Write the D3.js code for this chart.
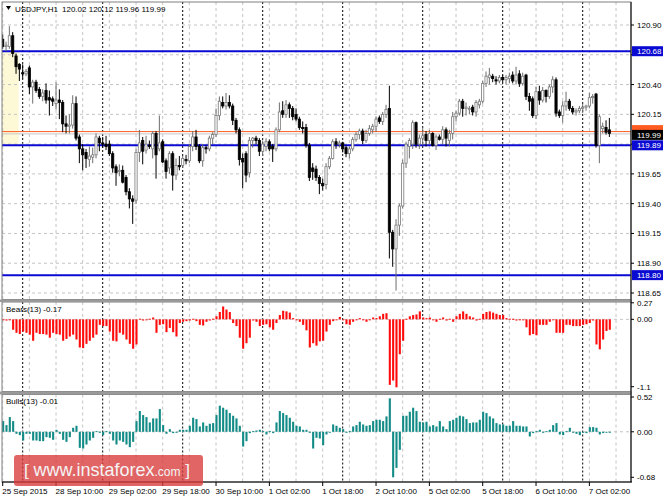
<!DOCTYPE html>
<html lang="en">
<head>
<meta charset="UTF-8">
<title>USDJPY H1</title>
<script src="https://cdn.jsdelivr.net/npm/d3@7"></script>
<style>
    body{ margin:0; background:#fff; }
    svg{ display:block; font-family:"Liberation Sans", Arial, sans-serif; }
    .grid{ stroke:#c4c4c4; stroke-dasharray:3,3; stroke-width:1; fill:none; }
    .sep{ stroke:#000; stroke-dasharray:2,2; stroke-width:1; fill:none; }
    .frame{ fill:none; stroke:#808080; stroke-width:1; }
    .lbl{ font-size:8px; fill:#000; }
</style>
</head>
<body>
<script>
// hourly bars, 25 Sep 18:00 .. 7 Oct 08:00
const open = [120.78,120.72,120.72,120.81,120.64,120.57,120.50,120.49,120.54,120.38,
120.42,120.36,120.30,120.35,120.29,120.28,120.24,120.27,120.25,120.07,
120.05,120.06,120.24,119.96,119.86,119.83,119.77,119.79,119.81,119.95,
119.91,119.90,119.90,119.82,119.71,119.67,119.68,119.62,119.50,119.44,
119.43,119.83,119.93,119.85,119.89,119.86,119.99,119.86,119.92,119.76,
119.70,119.82,119.64,119.72,119.72,119.77,119.76,119.88,119.96,119.88,
119.76,119.87,119.86,119.95,119.98,120.14,120.25,120.22,120.25,120.22,
120.10,120.02,119.78,119.82,119.66,119.93,119.95,119.93,119.84,119.88,
119.92,119.88,119.86,120.02,120.18,120.15,120.23,120.20,120.15,120.11,
120.04,120.04,119.89,119.70,119.69,119.62,119.57,119.56,119.71,119.78,
119.92,119.90,119.91,119.87,119.82,119.86,119.94,119.98,120.01,119.93,
119.99,120.02,120.05,120.12,120.09,120.15,120.20,119.16,119.02,119.22,
119.38,119.74,119.88,119.90,120.08,119.90,119.95,119.98,119.93,119.99,
119.89,119.96,119.94,120.02,119.93,119.99,120.13,120.16,120.26,120.20,
120.19,120.21,120.17,120.23,120.26,120.41,120.46,120.47,120.44,120.43,
120.46,120.44,120.45,120.48,120.43,120.49,120.41,120.48,120.30,120.28,
120.14,120.34,120.27,120.35,120.30,120.38,120.44,120.17,120.14,120.22,
120.26,120.20,120.17,120.18,120.20,120.21,120.22,120.29,120.32,119.89,
120.03,120.04,120.02];
const high = [120.82,120.76,120.89,120.84,120.66,120.58,120.57,120.53,120.56,120.44,
120.44,120.38,120.36,120.41,120.35,120.30,120.42,120.36,120.27,120.14,
120.15,120.31,120.30,119.98,119.90,119.86,119.88,119.87,119.99,119.97,
119.96,119.97,119.93,119.84,119.73,119.73,119.72,119.64,119.53,119.47,
119.86,120.02,119.96,119.97,119.93,120.01,120.01,120.14,119.94,119.78,
119.84,119.84,119.78,119.80,119.80,119.81,119.90,120.01,120.02,119.90,
119.90,119.89,119.97,120.00,120.20,120.30,120.30,120.33,120.31,120.24,
120.12,120.04,119.82,119.84,119.96,119.96,119.97,119.95,119.93,119.95,
119.94,119.90,120.04,120.25,120.26,120.27,120.25,120.22,120.20,120.13,
120.09,120.07,119.91,119.74,119.72,119.64,119.61,119.74,119.80,119.94,
119.95,119.93,119.92,119.89,119.88,119.96,120.00,120.03,120.03,120.02,
120.06,120.07,120.13,120.14,120.17,120.23,120.39,119.18,119.27,119.40,
119.77,119.92,119.95,120.10,120.09,119.98,120.04,120.01,120.02,120.00,
119.98,119.98,120.05,120.04,120.02,120.17,120.18,120.28,120.28,120.25,
120.22,120.23,120.27,120.28,120.43,120.51,120.54,120.49,120.47,120.48,
120.48,120.48,120.50,120.51,120.55,120.52,120.50,120.49,120.33,120.30,
120.38,120.39,120.38,120.36,120.40,120.47,120.46,120.19,120.26,120.34,
120.28,120.22,120.20,120.22,120.24,120.23,120.33,120.32,120.33,120.15,
120.08,120.10,120.12];
const low = [120.70,120.68,120.70,120.63,120.49,120.43,120.45,120.47,120.32,120.24,
120.33,120.28,120.26,120.24,120.14,120.22,120.19,120.11,120.00,119.99,
119.99,120.03,119.93,119.74,119.68,119.70,119.71,119.74,119.78,119.84,
119.87,119.85,119.80,119.66,119.55,119.63,119.57,119.47,119.36,119.23,
119.40,119.75,119.73,119.82,119.86,119.78,119.61,119.84,119.74,119.61,
119.65,119.51,119.60,119.68,119.70,119.73,119.74,119.84,119.85,119.74,
119.71,119.82,119.84,119.90,119.96,120.10,120.20,120.19,120.20,120.06,
119.99,119.72,119.53,119.58,119.62,119.87,119.90,119.80,119.80,119.84,
119.84,119.75,119.84,120.00,120.12,120.12,120.12,120.10,120.09,120.02,
119.99,119.87,119.59,119.60,119.59,119.48,119.51,119.52,119.69,119.77,
119.86,119.87,119.83,119.79,119.78,119.84,119.92,119.94,119.90,119.91,
119.97,119.99,120.00,120.07,120.06,120.12,118.94,118.87,118.67,119.13,
119.36,119.70,119.78,119.86,119.87,119.86,119.89,119.88,119.90,119.88,
119.85,119.93,119.90,119.88,119.88,119.94,120.09,120.14,120.13,120.14,
120.15,120.14,120.13,120.20,120.24,120.38,120.40,120.42,120.40,120.41,
120.42,120.40,120.41,120.41,120.40,120.38,120.39,120.27,120.18,120.12,
120.11,120.23,120.25,120.25,120.28,120.33,120.13,120.12,120.08,120.18,
120.18,120.15,120.14,120.16,120.16,120.18,120.20,120.24,119.87,119.74,
119.99,119.98,119.96];
const close = [120.72,120.73,120.81,120.66,120.55,120.53,120.49,120.51,120.38,120.42,
120.35,120.30,120.33,120.27,120.27,120.26,120.27,120.25,120.07,120.05,
120.06,120.24,119.95,119.86,119.81,119.78,119.80,119.81,119.96,119.91,
119.90,119.88,119.82,119.70,119.66,119.68,119.58,119.50,119.44,119.42,
119.83,119.91,119.84,119.90,119.88,119.99,119.81,119.91,119.75,119.67,
119.82,119.64,119.72,119.71,119.78,119.76,119.88,119.96,119.88,119.76,
119.87,119.86,119.95,119.98,120.14,120.26,120.22,120.25,120.22,120.10,
120.02,119.77,119.75,119.64,119.93,119.95,119.93,119.84,119.90,119.92,
119.86,119.86,120.02,120.17,120.15,120.23,120.20,120.13,120.11,120.04,
120.03,119.89,119.62,119.67,119.62,119.57,119.55,119.71,119.78,119.92,
119.90,119.91,119.86,119.82,119.86,119.94,119.98,120.01,119.93,119.99,
120.03,120.05,120.11,120.09,120.15,120.19,119.16,119.02,119.22,119.38,
119.74,119.90,119.93,120.08,119.90,119.95,119.97,119.93,119.99,119.89,
119.96,119.94,120.02,119.95,119.99,120.13,120.16,120.26,120.20,120.21,
120.20,120.17,120.25,120.26,120.41,120.47,120.48,120.45,120.43,120.46,
120.44,120.46,120.47,120.43,120.48,120.41,120.47,120.30,120.26,120.14,
120.34,120.27,120.35,120.30,120.38,120.44,120.16,120.14,120.22,120.26,
120.20,120.17,120.18,120.20,120.21,120.22,120.29,120.30,119.89,120.13,
120.05,120.00,119.99];

const bears = [-0.01,-0.02,-0.01,-0.17,-0.22,-0.24,-0.20,-0.22,-0.25,-0.35,
-0.22,-0.24,-0.24,-0.25,-0.30,-0.22,-0.24,-0.25,-0.35,-0.32,
-0.28,-0.25,-0.33,-0.46,-0.47,-0.40,-0.35,-0.30,-0.25,-0.09,
-0.11,-0.11,-0.20,-0.35,-0.36,-0.22,-0.25,-0.33,-0.40,-0.48,
-0.41,0.01,-0.02,-0.01,0.01,0.03,-0.22,-0.09,-0.08,-0.21,
-0.14,-0.21,-0.28,-0.06,-0.04,-0.03,-0.02,0.01,-0.03,-0.09,
-0.10,-0.04,-0.02,0.01,0.05,0.12,0.21,0.16,0.12,-0.06,
-0.11,-0.30,-0.48,-0.39,-0.30,-0.02,-0.04,-0.11,-0.09,-0.08,
-0.13,-0.17,-0.06,0.07,0.14,0.13,0.11,0.02,-0.01,-0.04,
-0.09,-0.18,-0.46,-0.39,-0.43,-0.36,-0.35,-0.20,-0.09,-0.03,
-0.01,0.04,-0.01,-0.08,-0.09,-0.04,0.00,0.02,-0.01,-0.04,
-0.01,0.03,0.02,0.05,0.09,0.10,-1.07,-1.00,-1.11,-0.57,
-0.35,0.01,0.05,0.07,0.08,0.13,0.03,0.02,0.03,0.00,
-0.04,0.01,0.03,-0.02,0.01,-0.04,0.05,0.09,0.13,0.09,
0.05,0.03,-0.02,0.01,0.09,0.12,0.13,0.11,0.09,0.07,
0.07,0.02,0.01,0.01,-0.02,-0.01,0.00,-0.13,-0.26,-0.24,
-0.26,-0.09,-0.09,-0.09,-0.04,-0.01,-0.22,-0.22,-0.22,-0.09,
-0.09,-0.11,-0.11,-0.11,-0.09,-0.08,-0.06,-0.02,-0.41,-0.49,
-0.33,-0.19,-0.17];
const bulls = [0.16,0.10,0.22,0.16,-0.03,-0.05,-0.13,-0.03,-0.03,-0.13,
-0.13,-0.14,-0.14,-0.08,-0.09,-0.12,0.03,-0.03,-0.12,-0.15,
-0.08,0.06,0.09,-0.24,-0.25,-0.19,-0.13,-0.09,0.01,0.00,
-0.05,0.01,-0.03,-0.13,-0.19,-0.13,-0.15,-0.19,-0.23,-0.15,
0.16,0.31,0.25,0.22,0.14,0.20,0.20,0.34,0.10,-0.03,
0.04,-0.02,0.00,0.03,0.03,0.03,0.09,0.21,0.19,0.08,
0.14,0.09,0.12,0.13,0.25,0.39,0.36,0.33,0.28,0.24,
0.20,0.09,-0.22,-0.14,-0.02,0.01,0.02,0.03,0.01,-0.04,
0.01,-0.02,0.14,0.31,0.28,0.25,0.21,0.15,0.09,0.08,
0.03,0.03,0.00,-0.25,-0.09,-0.10,-0.20,-0.04,-0.01,0.11,
0.09,0.06,0.04,0.00,0.01,0.08,0.10,0.15,0.11,0.09,
0.10,0.16,0.18,0.18,0.16,0.23,0.50,-0.68,-0.54,-0.27,
0.24,0.24,0.30,0.36,0.31,0.15,0.14,0.15,0.08,0.10,
0.08,0.16,0.08,0.04,0.16,0.18,0.21,0.24,0.23,0.19,
0.13,0.14,0.14,0.18,0.30,0.28,0.23,0.20,0.13,0.11,
0.11,0.09,0.09,0.16,0.09,0.09,0.08,0.08,-0.07,-0.02,
0.01,0.03,0.00,0.01,0.03,0.10,0.13,-0.04,-0.05,0.01,
0.06,-0.01,-0.03,-0.05,-0.01,-0.02,0.07,0.07,0.06,-0.04,
-0.02,-0.01,-0.01];

const timeLabels = ["25 Sep 2015","28 Sep 10:00","29 Sep 02:00","29 Sep 18:00","30 Sep 10:00",
    "1 Oct 02:00","1 Oct 18:00","2 Oct 10:00","5 Oct 02:00","5 Oct 18:00","6 Oct 10:00","7 Oct 02:00"];
const dayStarts = [6,30,54,78,102,126,150,174];
const priceTicks = [120.90,120.65,120.40,120.15,119.90,119.65,119.40,119.15,118.90,118.65];
const levels = [120.68,119.89,118.80];
const bearsTicks = [0.27,0.00,-1.1];
const bullsTicks = [0.52,0.00,-0.68];
const lastBid = 119.99, lastAsk = 120.005;
const zoneTop = 120.68, zoneBottom = 119.89, zoneBars = 4.8;

const W = 664, H = 498;
const L = 2, R = 631;
const main = {top:2, bottom:299.5};
const bp = {top:302, bottom:391.5};
const up = {top:394.5, bottom:482};

const svg = d3.select("body").append("svg").attr("width",W).attr("height",H);

const x = d3.scaleLinear().domain([0,188.7]).range([2.7,631.7]);
const y = d3.scaleLinear().domain([118.65,120.90]).range([293,25]);
const yBears = d3.scaleLinear().domain([-1.1,0.27]).range([386.7,302.8]);
const yBulls = d3.scaleLinear().domain([-0.68,0.52]).range([477.3,397]);

const defs = svg.append("defs");
[["cMain",main],["cBears",bp],["cBulls",up]].forEach(([id,p])=>{
    defs.append("clipPath").attr("id",id).append("rect")
        .attr("x",L).attr("y",p.top).attr("width",R-L).attr("height",p.bottom-p.top);
});

// yellow zone
svg.append("rect").attr("x",L).attr("y",y(zoneTop))
    .attr("width",x(zoneBars)-L).attr("height",y(zoneBottom)-y(zoneTop))
    .attr("fill","#fdf8d6");

// vertical grid every 8 bars, in each panel
const gridBars = d3.range(0,189,8);
[main,bp,up].forEach(p=>{
    svg.append("g").selectAll("line").data(gridBars).enter().append("line")
        .attr("class","grid")
        .attr("x1",d=>x(d)).attr("x2",d=>x(d))
        .attr("y1",p.top).attr("y2",p.bottom);
    svg.append("g").selectAll("line").data(dayStarts).enter().append("line")
        .attr("class","sep")
        .attr("x1",d=>x(d)).attr("x2",d=>x(d))
        .attr("y1",p.top).attr("y2",p.bottom);
});

// horizontal grid
svg.append("g").selectAll("line").data(priceTicks).enter().append("line")
    .attr("class","grid").attr("x1",L).attr("x2",R)
    .attr("y1",d=>y(d)).attr("y2",d=>y(d));
svg.append("line").attr("class","grid").attr("x1",L).attr("x2",R)
    .attr("y1",yBears(0)).attr("y2",yBears(0));
svg.append("line").attr("class","grid").attr("x1",L).attr("x2",R)
    .attr("y1",yBulls(0)).attr("y2",yBulls(0));

// bid / ask lines
svg.append("line").attr("x1",L).attr("x2",R).attr("y1",y(lastAsk)).attr("y2",y(lastAsk))
    .attr("stroke","#ff5a1f").attr("stroke-width",1);
svg.append("line").attr("x1",L).attr("x2",R).attr("y1",y(lastBid)+0.5).attr("y2",y(lastBid)+0.5)
    .attr("stroke","#c8c8c8").attr("stroke-width",1);

// horizontal levels
svg.append("g").selectAll("line").data(levels).enter().append("line")
    .attr("x1",L).attr("x2",R).attr("y1",d=>y(d)).attr("y2",d=>y(d))
    .attr("stroke","#0a0ad2").attr("stroke-width",2);

// candles
const bars = open.map((o,i)=>({i:i,o:o,h:high[i],l:low[i],c:close[i]}));
const cg = svg.append("g").attr("clip-path","url(#cMain)");
const candle = cg.selectAll("g").data(bars).enter().append("g");
candle.append("line")
    .attr("x1",d=>x(d.i)).attr("x2",d=>x(d.i))
    .attr("y1",d=>y(d.h)).attr("y2",d=>y(d.l))
    .attr("stroke",d=>d.c>=d.o ? "#6e6e6e" : "#000")
    .attr("stroke-width",1);
candle.append("rect")
    .attr("x",d=>x(d.i)-1.1).attr("width",2.2)
    .attr("y",d=>y(Math.max(d.o,d.c)))
    .attr("height",d=>Math.max(1,Math.abs(y(d.o)-y(d.c))))
    .attr("fill",d=>d.c>=d.o ? "#fff" : "#000")
    .attr("stroke",d=>d.c>=d.o ? "#7a7a7a" : "#000")
    .attr("stroke-width",0.8);

// histograms
function histo(vals, ys, clip, color){
    const g = svg.append("g").attr("clip-path",`url(#${clip})`);
    g.selectAll("rect").data(vals).enter().append("rect")
        .attr("x",(d,i)=>x(i)-0.6).attr("width",2.1)
        .attr("y",d=>Math.min(ys(d),ys(0)))
        .attr("height",d=>Math.max(1,Math.abs(ys(d)-ys(0))))
        .attr("fill",color);
}
histo(bears,yBears,"cBears","#ff0d0d");
histo(bulls,yBulls,"cBulls","#138c88");

// frames and splitters
[main,bp,up].forEach(p=>{
    svg.append("rect").attr("class","frame")
        .attr("x",L).attr("y",p.top).attr("width",R-L).attr("height",p.bottom-p.top);
});
svg.append("rect").attr("x",0).attr("y",main.bottom).attr("width",R+1).attr("height",bp.top-main.bottom)
    .attr("fill","#9a9a9a");
svg.append("rect").attr("x",0).attr("y",bp.bottom).attr("width",R+1).attr("height",up.top-bp.bottom)
    .attr("fill","#9a9a9a");
svg.append("line").attr("x1",L).attr("x2",R+1).attr("y1",up.bottom).attr("y2",up.bottom)
    .attr("stroke","#000");
svg.append("line").attr("x1",R).attr("x2",R).attr("y1",main.top).attr("y2",up.bottom)
    .attr("stroke","#000");

// right axes (labels hidden behind a level box are not printed)
function rightAxis(ticks, ys, fmt, hidden){
    const g = svg.append("g");
    g.selectAll("line").data(ticks).enter().append("line")
        .attr("x1",R).attr("x2",R+3).attr("y1",d=>ys(d)).attr("y2",d=>ys(d)).attr("stroke","#000");
    g.selectAll("text").data(ticks.filter(d=>!hidden(d))).enter().append("text")
        .attr("class","lbl").attr("x",R+6).attr("y",d=>ys(d)+3)
        .text(fmt);
}
rightAxis(priceTicks, y, d=>d.toFixed(2), d=>levels.some(v=>Math.abs(y(v)-y(d))<9));
rightAxis(bearsTicks, yBears, d=>d===-1.1 ? "-1.1" : d.toFixed(2), ()=>false);
rightAxis(bullsTicks, yBulls, d=>d.toFixed(2), ()=>false);

// price boxes
function priceBox(v, yy, fill, withText){
    svg.append("rect").attr("x",R+1).attr("y",yy-5).attr("width",W-R-2).attr("height",10).attr("fill",fill);
    if(withText){
        svg.append("text").attr("class","lbl").attr("x",R+6).attr("y",yy+3)
            .style("fill","#fff").text(v.toFixed(2));
    }
}
priceBox(lastAsk, y(lastAsk)-1.5, "#ff5a1f", false);
priceBox(lastBid, y(lastBid)+1.5, "#000", true);
levels.forEach(v=>priceBox(v, y(v), "#0a0ad2", true));

// time axis
const labelBars = timeLabels.map((t,k)=>k*16);
svg.append("g").selectAll("line").data(labelBars).enter().append("line")
    .attr("x1",d=>x(d)).attr("x2",d=>x(d)).attr("y1",up.bottom).attr("y2",up.bottom+4)
    .attr("stroke","#000");
svg.append("g").selectAll("text").data(timeLabels).enter().append("text")
    .attr("class","lbl").attr("x",(d,k)=>x(k*16)-0.5).attr("y",494)
    .text(d=>d);

// panel captions
svg.append("path").attr("d","M6,6 L11,6 L8.5,10 Z").attr("fill","#000");
svg.append("text").attr("class","lbl").attr("x",15).attr("y",12).text("USDJPY,H1");
svg.append("text").attr("class","lbl").attr("x",62).attr("y",12)
    .text([open[182],high[182],low[182],close[182]].map(v=>v.toFixed(2)).join(" "));
svg.append("text").attr("class","lbl").attr("x",6).attr("y",312)
    .text("Bears(13) " + bears[bears.length-1].toFixed(2));
svg.append("text").attr("class","lbl").attr("x",6).attr("y",404)
    .text("Bulls(13) " + bulls[bulls.length-1].toFixed(2));

// watermark
const wm = svg.append("g");
wm.append("rect").attr("x",14).attr("y",455).attr("width",189).attr("height",31).attr("rx",3)
    .attr("fill","#d93a3a").attr("opacity",0.78);
const wt = wm.append("text").attr("x",24).attr("y",476).attr("fill","#f4f4f4")
    .style("font-family","'Liberation Sans', Arial, sans-serif");
wt.append("tspan").style("font-size","17px").text("[ ");
wt.append("tspan").style("font-size","18px").text("www.instaforex");
wt.append("tspan").style("font-size","12px").text(".com");
wt.append("tspan").style("font-size","17px").text(" ]");
</script>
</body>
</html>
